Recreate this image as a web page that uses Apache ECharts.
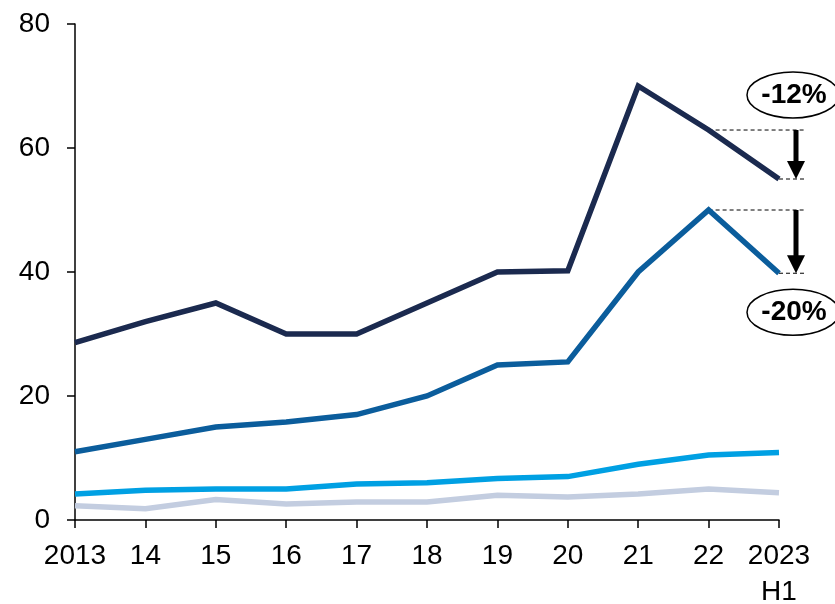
<!DOCTYPE html>
<html><head><meta charset="utf-8">
<script src="https://cdn.jsdelivr.net/npm/echarts@6/dist/echarts.min.js"></script>
<style>html,body{margin:0;padding:0;background:#fff}#c{width:835px;height:604px}</style>
</head><body><div id="c"></div>
<script>
const categories = ['2013','14','15','16','17','18','19','20','21','22','2023\nH1'];
const seriesNavy = [28.6, 32, 35, 30, 30, 35, 40, 40.2, 70, 62.9, 55];
const seriesBlue = [11, 13, 15, 15.8, 17, 20, 25, 25.5, 40, 50, 39.8];
const seriesLight = [4.2, 4.8, 5, 5, 5.8, 6, 6.7, 7, 9, 10.5, 10.9];
const seriesGrey = [2.3, 1.8, 3.3, 2.6, 2.9, 2.9, 4, 3.7, 4.2, 5, 4.4];
const yTicks = [0, 20, 40, 60, 80];
const changes = [{label:'-12%', from:62.9, to:55, above:true}, {label:'-20%', from:50, to:39.8, above:false}];

const chart = echarts.init(document.getElementById('c'));
const font = 'Liberation Sans, Arial, sans-serif';
function mk(data, color){
  return {type:'line', data, symbol:'none', lineStyle:{color, width:5.5, cap:'butt', join:'miter'}, z: 3};
}
chart.setOption({
  animation:false,
  grid:{left:75, right:56, top:24, bottom:84, containLabel:false, outerBoundsMode:'none'},
  xAxis:{type:'category', data:categories, boundaryGap:false,
    axisLine:{lineStyle:{color:'#000', width:1.5}},
    axisTick:{show:true, length:8, lineStyle:{color:'#000', width:1.5}},
    axisLabel:{color:'#000', fontSize:28, fontFamily:font, margin:18, lineHeight:36, interval:0},
    splitLine:{show:false}},
  yAxis:{type:'value', min:yTicks[0], max:yTicks[yTicks.length-1], interval:20,
    axisLine:{show:true, lineStyle:{color:'#000', width:1.5}},
    axisTick:{show:true, length:8, lineStyle:{color:'#000', width:1.5}},
    axisLabel:{color:'#000', fontSize:28, fontFamily:font, margin:25},
    splitLine:{show:false}},
  series:[mk(seriesGrey,'#c3cde0'), mk(seriesLight,'#00a0e3'), mk(seriesBlue,'#0b5d9c'), mk(seriesNavy,'#1b2a4f')]
});

const g = [];
const i22 = 9, iLast = 10;
changes.forEach(c => {
  const pFrom = chart.convertToPixel({gridIndex:0}, [i22, c.from]);
  const pTo = chart.convertToPixel({gridIndex:0}, [iLast, c.to]);
  const xArrow = pTo[0] + 17;
  const xEnd = pTo[0] + 25;
  g.push({type:'line', shape:{x1:pFrom[0], y1:pFrom[1], x2:xEnd, y2:pFrom[1]}, style:{stroke:'#000', lineWidth:1, lineDash:[4,3]}});
  g.push({type:'line', shape:{x1:pTo[0], y1:pTo[1], x2:xEnd, y2:pTo[1]}, style:{stroke:'#000', lineWidth:1, lineDash:[4,3]}});
  g.push({type:'line', shape:{x1:xArrow, y1:pFrom[1], x2:xArrow, y2:pTo[1]-16}, style:{stroke:'#000', lineWidth:5}});
  g.push({type:'polygon', shape:{points:[[xArrow-9, pTo[1]-18],[xArrow+9, pTo[1]-18],[xArrow, pTo[1]]]}, style:{fill:'#000'}});
  const cy = c.above ? pFrom[1] - 35 : pTo[1] + 39;
  const cx = pTo[0] + 14;
  g.push({type:'ellipse', shape:{cx, cy, rx:46, ry:23}, style:{fill:'#fff', stroke:'#000', lineWidth:1.5}, z:10});
  g.push({type:'text', x:cx + 1, y:cy, style:{text:c.label, fill:'#000', font:'bold 28px '+font, align:'center', verticalAlign:'middle'}, z:11});
});
chart.setOption({graphic:g});
</script></body></html>
